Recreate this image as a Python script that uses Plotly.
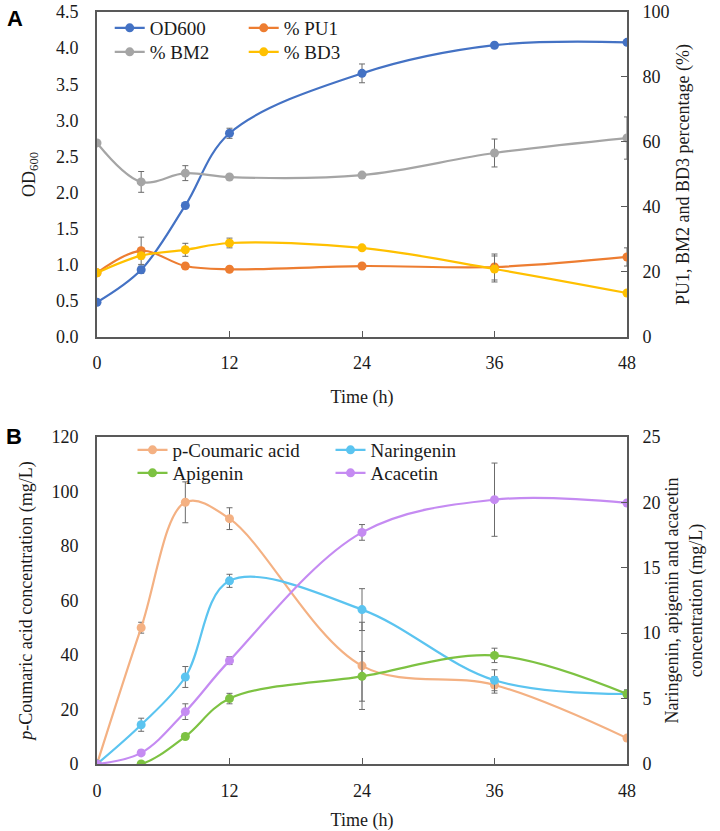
import plotly.graph_objects as go

# ---------------- data ----------------
time_h = [0, 4, 8, 12, 24, 36, 48]
x_ticks = [0, 12, 24, 36, 48]

# Panel A
od600 = [0.48, 0.93, 1.82, 2.82, 3.65, 4.04, 4.08]
od600_err = [0, 0.05, 0.03, 0.07, 0.13, 0.02, 0.02]
pu1 = [19.7, 26.5, 21.8, 20.8, 21.8, 21.5, 24.6]
pu1_err = [0, 4.2, 0.6, 0.5, 0.5, 4.0, 2.8]
bm2 = [59.7, 47.7, 50.4, 49.2, 49.8, 56.6, 61.2]
bm2_err = [0, 3.2, 2.3, 0.6, 0.6, 4.3, 6.5]
bd3 = [19.7, 25.0, 26.8, 28.9, 27.4, 20.9, 13.5]
bd3_err = [0, 1.0, 2.0, 1.5, 0.5, 4.0, 0.5]

# Panel B
p_coumaric = [0, 50, 96, 90, 36, 29, 9.5]
p_coumaric_err = [0, 2, 7.5, 4, 16, 3, 0.5]
naringenin = [0, 3.0, 6.65, 14.0, 11.8, 6.4, 5.35]
naringenin_err = [0, 0.5, 0.8, 0.5, 1.6, 0.8, 0.3]
apigenin = [0, 0, 2.1, 5.0, 6.7, 8.3, 5.35]
apigenin_err = [0, 0, 0.2, 0.4, 1.9, 0.55, 0.3]
acacetin = [0, 0.85, 4.0, 7.9, 17.7, 20.2, 19.95]
acacetin_err = [0, 0.2, 0.6, 0.3, 0.6, 2.8, 0.2]

# ---------------- style ----------------
FONT = "Liberation Serif, Times New Roman, serif"
AX = "#595959"
ERR = "#6b6b6b"
TXT = "#1a1a1a"

def trace(x, y, err, name, color, xa, ya, legend):
    return go.Scatter(
        x=x, y=y, name=name, mode="lines+markers",
        line=dict(color=color, width=2.2, shape="spline", smoothing=1.0),
        marker=dict(color=color, size=9),
        error_y=dict(type="data", array=err, visible=True, color=ERR, thickness=1, width=3),
        xaxis=xa, yaxis=ya, legend=legend,
    )

fig = go.Figure()
# Panel A
fig.add_trace(trace(time_h, od600, od600_err, "OD600", "#4472C4", "x", "y", "legend"))
fig.add_trace(trace(time_h, pu1, pu1_err, "% PU1", "#ED7D31", "x", "y2", "legend"))
fig.add_trace(trace(time_h, bm2, bm2_err, "% BM2", "#A5A5A5", "x", "y2", "legend2"))
fig.add_trace(trace(time_h, bd3, bd3_err, "% BD3", "#FFC000", "x", "y2", "legend2"))
# Panel B
fig.add_trace(trace(time_h, p_coumaric, p_coumaric_err, "p-Coumaric acid", "#F4B183", "x2", "y3", "legend3"))
fig.add_trace(trace(time_h, naringenin, naringenin_err, "Naringenin", "#5BC4F0", "x2", "y4", "legend3"))
fig.add_trace(trace(time_h, apigenin, apigenin_err, "Apigenin", "#7DC242", "x2", "y4", "legend4"))
fig.add_trace(trace(time_h, acacetin, acacetin_err, "Acacetin", "#C58BF2", "x2", "y4", "legend4"))

tickfont = dict(family=FONT, size=18, color=TXT)
titlefont = dict(family=FONT, size=18, color=TXT)

def xaxis(domain, anchor):
    return dict(domain=domain, anchor=anchor, range=[0, 48], tickvals=x_ticks,
                showline=True, linecolor=AX, linewidth=2, mirror=True,
                ticks="inside", ticklen=6, tickcolor=AX, tickwidth=1, ticklabelstandoff=9,
                showgrid=False, zeroline=False, tickfont=tickfont, automargin=False,
                title=dict(text="Time (h)", font=titlefont, standoff=18))

def ylaxis(domain, anchor, rng, dtick, fmt, title, standoff):
    return dict(domain=domain, anchor=anchor, range=rng, dtick=dtick, tickformat=fmt,
                showline=True, linecolor=AX, linewidth=2, ticks="", ticklabelstandoff=13,
                showgrid=False, zeroline=False, tickfont=tickfont, automargin=False,
                title=dict(text=title, font=titlefont, standoff=standoff))

def yraxis(overlay, anchor, rng, dtick, title, standoff):
    return dict(overlaying=overlay, anchor=anchor, side="right", range=rng, dtick=dtick,
                showline=True, linecolor=AX, linewidth=2,
                ticks="inside", ticklen=6, tickcolor=AX, tickwidth=1, ticklabelstandoff=10,
                showgrid=False, zeroline=False, tickfont=tickfont, automargin=False,
                title=dict(text=title, font=titlefont, standoff=standoff))

dA = [0.568, 1.0]
dB = [0.0, 0.435]

legend_common = dict(orientation="h", bgcolor="rgba(0,0,0,0)", borderwidth=0,
                     font=dict(family=FONT, size=19, color=TXT),
                     xanchor="left", yanchor="middle", itemwidth=30, tracegroupgap=0)

fig.update_layout(
    width=720, height=831,
    margin=dict(l=97, r=93, t=12, b=67, autoexpand=False),
    paper_bgcolor="white", plot_bgcolor="white",
    xaxis=xaxis([0, 1], "y"),
    yaxis=ylaxis(dA, "x", [0, 4.5], 0.5, ".1f", "OD<sub>600</sub>", 16),
    yaxis2=yraxis("y", "x", [0, 100], 20, "PU1, BM2 and BD3 percentage (%)", 8),
    xaxis2=xaxis([0, 1], "y3"),
    yaxis3=ylaxis(dB, "x2", [0, 120], 20, "", "<i>p</i>-Coumaric acid concentration (mg/L)", 14),
    yaxis4=yraxis("y3", "x2", [0, 25], 5, "Naringenin, apigenin and acacetin<br>concentration (mg/L)", 6),
    legend=dict(**legend_common, x=0.024, y=1 - 16 / 752, entrywidth=89),
    legend2=dict(**legend_common, x=0.024, y=1 - 40 / 752, entrywidth=89),
    legend3=dict(**legend_common, x=0.067, y=(764 - 450) / 752, entrywidth=153),
    legend4=dict(**legend_common, x=0.067, y=(764 - 473) / 752, entrywidth=153),
    showlegend=True,
)

fig.add_annotation(text="<b>A</b>", xref="paper", yref="paper", x=-92 / 530, y=1 + 8 / 752,
                   xanchor="left", yanchor="top", showarrow=False,
                   font=dict(family="Liberation Sans", size=22, color="black"))
fig.add_annotation(text="<b>B</b>", xref="paper", yref="paper", x=-93 / 530, y=(764 - 422) / 752,
                   xanchor="left", yanchor="top", showarrow=False,
                   font=dict(family="Liberation Sans", size=22, color="black"))

fig.write_html("out.html")
